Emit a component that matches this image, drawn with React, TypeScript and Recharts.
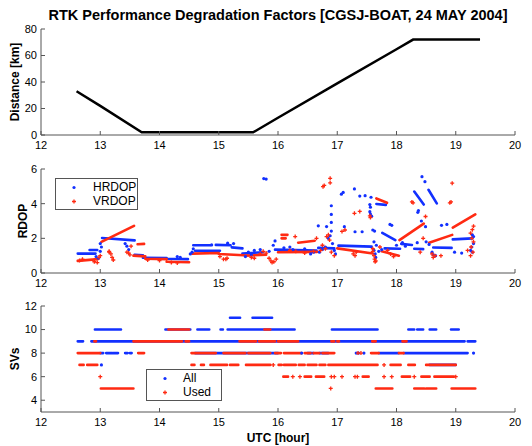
import { ComposedChart, Line, Scatter, XAxis, YAxis } from "recharts";

const FONT = "'Liberation Sans', Arial, sans-serif";
const BLUE = "#1230ff";
const RED = "#ff2a12";
const AXIS = "#555";

const hourTicks = [12, 13, 14, 15, 16, 17, 18, 19, 20];

// baseline length CGSJ -> boat
const distHours = [12.6, 13.0, 13.7, 15.58, 16.0, 17.0, 18.0, 18.28, 19.41];
const distKm = [33, 22, 2, 2, 13, 39, 64.7, 72, 72];

// RDOP: dense stretches [t0, v0, t1, v1], single samples [t, v]
const hrdopRuns: number[][] = [
  [12.62, 1.12, 12.92, 1.12], [12.82, 1.33, 12.95, 1.33], [13.03, 2.02, 13.58, 1.88],
  [13.58, 1.05, 13.72, 1.02], [13.72, 0.88, 14.12, 0.86], [14.12, 0.82, 14.48, 0.8],
  [14.57, 1.6, 14.86, 1.6], [14.6, 1.28, 15.02, 1.28], [14.95, 1.62, 15.2, 1.6],
  [15.22, 1.48, 15.4, 1.42], [15.4, 1.12, 15.75, 1.2], [15.95, 1.35, 16.65, 1.3],
  [16.68, 1.45, 16.95, 1.42], [17.02, 1.58, 17.58, 1.52], [17.66, 3.98, 17.82, 3.93],
  [17.76, 2.32, 17.98, 1.9], [17.8, 1.42, 18.06, 1.4], [18.08, 1.68, 18.26, 1.62],
  [18.3, 4.7, 18.46, 3.95], [18.54, 4.8, 18.68, 4.02], [18.3, 1.4, 18.45, 1.38],
  [18.62, 1.47, 18.93, 1.45], [18.95, 1.94, 19.28, 2.0],
];
const hrdopDots: number[][] = [
  [12.93, 0.95], [13.0, 1.7], [13.02, 1.5], [13.0, 1.25], [12.97, 0.85],
  [13.42, 1.7], [13.45, 1.55], [13.48, 1.35], [14.3, 0.95], [14.35, 0.9],
  [14.52, 1.1], [14.55, 1.2], [14.57, 1.4], [14.88, 1.62], [15.15, 1.72], [15.25, 1.7],
  [15.76, 5.45], [15.8, 5.42], [15.92, 1.6], [15.95, 1.85], [15.6, 1.3], [15.5, 1.2],
  [15.85, 1.25], [15.7, 1.35], [15.55, 1.05], [15.45, 0.95],
  [16.1, 1.45], [16.2, 1.5], [16.25, 1.35], [16.45, 1.4], [16.55, 1.1], [16.6, 1.2],
  [16.68, 2.72], [16.82, 2.68], [16.9, 3.88], [16.9, 3.38], [16.9, 2.92], [16.9, 2.42],
  [16.88, 2.15], [16.85, 2.0], [16.92, 1.7], [16.8, 1.5], [16.75, 1.35], [16.7, 1.2],
  [16.95, 1.3], [16.97, 1.1], [17.07, 4.55], [17.1, 4.65], [17.29, 4.85], [17.38, 4.44],
  [17.47, 4.46], [17.57, 4.37], [17.55, 3.95], [17.56, 3.8], [17.55, 3.54], [17.56, 3.4],
  [17.58, 3.28], [17.12, 2.67], [17.3, 2.38], [17.42, 2.38], [17.6, 2.48], [17.63, 2.42],
  [17.89, 2.8], [17.92, 2.75], [17.62, 1.8], [17.62, 1.3], [17.64, 1.1], [17.65, 0.9],
  [17.66, 1.6], [17.7, 1.25], [17.75, 1.35], [18.0, 1.6], [18.1, 1.75], [18.15, 1.55],
  [18.35, 1.75], [18.37, 3.6], [18.36, 3.5], [18.42, 3.0], [18.49, 2.67], [18.43, 5.56],
  [18.48, 5.27], [18.5, 1.8], [18.55, 1.65], [18.6, 1.2], [18.62, 1.05], [18.66, 1.0],
  [18.76, 2.75], [18.85, 2.8], [18.98, 1.2], [19.1, 1.15], [19.25, 1.3], [19.27, 1.5],
  [19.28, 2.2], [19.3, 1.7], [19.3, 2.1], [19.28, 1.2],
];
const vrdopRuns: number[][] = [
  [12.62, 0.7, 12.96, 0.8], [13.02, 1.8, 13.57, 2.72], [13.56, 1.0, 13.76, 0.96],
  [13.63, 1.66, 13.74, 1.68], [13.76, 0.82, 14.12, 0.8], [14.12, 0.65, 14.5, 0.62],
  [14.55, 1.12, 15.0, 1.15], [15.0, 1.1, 15.42, 1.02], [15.45, 1.0, 15.8, 1.05],
  [16.0, 1.2, 16.66, 1.22], [16.34, 1.75, 16.62, 1.86], [16.06, 2.2, 16.16, 2.2],
  [16.06, 2.0, 16.13, 2.0], [17.0, 1.42, 17.6, 1.12], [17.66, 4.3, 17.84, 4.05],
  [17.75, 1.25, 18.04, 1.0], [18.05, 1.9, 18.46, 2.85], [18.55, 1.75, 18.94, 2.2],
  [18.95, 2.62, 19.33, 3.38],
];
const vrdopDots: number[][] = [
  [12.65, 0.72], [12.7, 0.8], [12.9, 0.65], [12.95, 0.6], [12.98, 0.9], [13.0, 1.0],
  [13.15, 1.2], [13.18, 1.1], [13.2, 0.9], [13.22, 0.75], [13.15, 1.25],
  [13.45, 1.2], [13.48, 1.15], [13.5, 1.05], [13.52, 1.55],
  [13.8, 0.75], [14.0, 0.72], [14.2, 0.6], [14.3, 0.58],
  [15.08, 0.8], [15.12, 0.8], [15.14, 0.85], [15.02, 0.95],
  [15.55, 0.9], [15.6, 0.85], [15.85, 0.85], [15.88, 0.7], [15.9, 0.6], [15.93, 0.65],
  [15.97, 0.8], [15.7, 1.1], [15.75, 1.25], [15.8, 1.15],
  [16.29, 2.1], [16.2, 1.3], [16.3, 1.25], [16.45, 1.15], [16.6, 1.25], [16.65, 2.0],
  [16.76, 4.98], [16.78, 5.05], [16.88, 5.46], [16.88, 5.2], [16.82, 2.1], [16.85, 2.2],
  [16.87, 1.9], [16.75, 1.6], [16.8, 1.4], [16.9, 1.2], [16.95, 1.0], [16.72, 1.3],
  [17.08, 2.4], [17.29, 3.44], [17.38, 3.55], [17.13, 2.48], [17.27, 1.1], [17.3, 1.0],
  [17.32, 1.2], [17.55, 3.3], [17.56, 3.2], [17.6, 1.25], [17.62, 1.0], [17.63, 0.8],
  [17.64, 0.65], [17.65, 0.7], [17.6, 1.4], [17.72, 1.5], [17.85, 1.3], [17.9, 1.1],
  [17.95, 0.95], [18.26, 4.1], [18.28, 4.05], [18.49, 3.26], [18.45, 2.0], [18.4, 1.2],
  [18.6, 1.1], [18.62, 0.9], [18.65, 1.0], [18.9, 4.05], [18.92, 4.1], [18.94, 5.18],
  [18.75, 1.0], [19.2, 1.3], [19.25, 1.0], [19.26, 1.5], [19.27, 2.0], [19.28, 2.5],
  [19.3, 1.8], [19.3, 2.7], [19.25, 2.3], [19.29, 1.2],
];

// satellites: stretches [t0, t1, count], single samples [t, count]
const allRuns: number[][] = [
  [15.19, 15.36, 11], [15.57, 15.9, 11],
  [12.91, 13.35, 10], [14.1, 14.52, 10], [14.64, 14.84, 10], [15.03, 15.07, 10],
  [15.15, 16.28, 10], [16.91, 17.68, 10], [18.2, 18.3, 10], [18.35, 18.45, 10],
  [18.56, 18.67, 10], [18.92, 19.05, 10],
  [12.62, 12.71, 9], [12.85, 19.15, 9], [19.2, 19.33, 9],
  [13.0, 13.05, 8], [13.1, 13.2, 8], [13.22, 13.3, 8], [13.42, 13.46, 8], [13.5, 13.53, 8],
  [14.6, 16.0, 8], [16.5, 16.6, 8], [16.7, 16.85, 8], [17.7, 18.04, 8], [18.12, 19.2, 8],
  [18.56, 19.0, 7],
];
const allDots: number[][] = [
  [13.02, 7], [17.32, 8], [17.36, 8], [19.3, 8], [16.4, 8], [17.45, 8],
];
const usedRuns: number[][] = [
  [14.15, 14.5, 10], [15.77, 15.87, 10],
  [12.9, 12.93, 9], [13.56, 14.25, 9], [14.27, 14.38, 9], [14.44, 14.5, 9],
  [15.35, 15.63, 9], [15.68, 15.95, 9], [16.0, 16.34, 9], [16.9, 16.95, 9],
  [17.0, 17.03, 9], [17.59, 17.65, 9], [18.1, 18.17, 9],
  [12.62, 13.0, 8], [13.64, 13.74, 8], [14.54, 14.95, 8], [15.08, 15.45, 8],
  [15.5, 15.87, 8], [15.95, 16.05, 8], [16.1, 16.4, 8], [16.45, 16.55, 8],
  [16.6, 16.7, 8], [16.75, 16.95, 8], [17.57, 17.7, 8], [18.04, 18.12, 8],
  [12.65, 12.72, 7], [12.78, 12.95, 7], [14.54, 14.59, 7], [14.7, 14.75, 7],
  [14.86, 15.14, 7], [15.19, 15.33, 7], [15.46, 15.87, 7], [16.01, 16.06, 7],
  [16.1, 16.3, 7], [16.35, 16.45, 7], [16.5, 16.65, 7], [16.7, 16.8, 7],
  [16.85, 17.68, 7], [17.9, 18.07, 7], [18.2, 18.31, 7], [18.5, 19.0, 7],
  [16.09, 16.17, 6], [16.45, 16.56, 6], [16.64, 16.78, 6], [17.43, 17.53, 6],
  [18.09, 18.23, 6], [18.42, 18.56, 6], [18.64, 18.97, 6],
  [13.01, 13.56, 5], [17.65, 17.93, 5], [18.3, 18.47, 5], [18.5, 18.67, 5],
  [18.93, 19.33, 5],
];
const usedDots: number[][] = [
  [13.0, 6], [16.25, 6], [16.37, 6], [16.9, 6], [16.95, 6], [17.08, 6], [17.3, 6],
  [17.34, 6], [17.79, 6], [17.92, 6], [18.3, 6], [17.79, 7], [15.92, 7], [16.89, 5],
  [17.35, 8], [17.4, 8], [19.0, 6],
];

const pointRuns = (runs: number[][]) =>
  runs.flatMap(([t0, v0, t1, v1]) => [
    { t: t0, v: v0 },
    { t: t1, v: v1 },
    { t: t1, v: null },
  ]);
const levelRuns = (runs: number[][]) =>
  runs.flatMap(([t0, t1, n]) => [
    { t: t0, v: n },
    { t: t1, v: n },
    { t: t1, v: null },
  ]);
const points = (rows: number[][]) => rows.map(([t, v]) => ({ t, v }));

const BlueDot = (p: any) => <circle cx={p.cx} cy={p.cy} r={1.6} fill={BLUE} />;
const RedPlus = (p: any) => (
  <path
    d={`M${p.cx - 2},${p.cy}h4M${p.cx},${p.cy - 2}v4`}
    stroke={RED}
    strokeWidth={1.3}
  />
);

const tickFont = { fontSize: 11, fill: "#000", fontFamily: FONT };

const yTitle = (text: string, x: number) => (props: any) => {
  const vb = props.viewBox;
  const cy = vb.y + vb.height / 2;
  return (
    <text
      x={x}
      y={cy}
      transform={`rotate(-90 ${x} ${cy})`}
      textAnchor="middle"
      dominantBaseline="central"
      style={{ fontSize: 12, fontWeight: "bold", fontFamily: FONT, fill: "#000" }}
    >
      {text}
    </text>
  );
};

function frame(
  yDomain: [number, number],
  yTicks: number[],
  xHeight: number,
  yLabel: string,
  yLabelX: number,
  xLabel?: string
) {
  return [
    <XAxis
      key="xb"
      type="number"
      dataKey="t"
      domain={[12, 20]}
      ticks={hourTicks}
      interval={0}
      allowDataOverflow
      height={xHeight}
      stroke={AXIS}
      tick={tickFont}
      tickSize={-4}
      tickMargin={10}
      label={
        xLabel
          ? {
              value: xLabel,
              position: "insideBottom",
              offset: 4,
              style: { fontSize: 12, fontWeight: "bold", fontFamily: FONT, fill: "#000" },
            }
          : undefined
      }
    />,
    <XAxis
      key="xt"
      xAxisId="top"
      orientation="top"
      type="number"
      domain={[12, 20]}
      ticks={hourTicks}
      interval={0}
      height={0}
      stroke={AXIS}
      tick={false}
      tickSize={-4}
    />,
    <YAxis
      key="yl"
      type="number"
      dataKey="v"
      domain={yDomain}
      ticks={yTicks}
      interval={0}
      allowDataOverflow
      width={41}
      stroke={AXIS}
      tick={tickFont}
      tickSize={-4}
      tickMargin={8}
      label={{ content: yTitle(yLabel, yLabelX) }}
    />,
    <YAxis
      key="yr"
      yAxisId="right"
      orientation="right"
      type="number"
      domain={yDomain}
      ticks={yTicks}
      interval={0}
      width={0}
      stroke={AXIS}
      tick={false}
      tickSize={-4}
    />,
  ];
}

const legendBox = (left: number, top: number, w: number): React.CSSProperties => ({
  position: "absolute",
  left,
  top,
  width: w,
  height: 32,
  border: "1px solid #555",
  background: "#fff",
  fontFamily: FONT,
  fontSize: 12,
  boxSizing: "border-box",
});

function LegendRow({ kind, text, top, textLeft }: any) {
  return (
    <div style={{ position: "absolute", left: 0, top, height: 15, width: "100%" }}>
      <svg width={30} height={15} style={{ position: "absolute", left: 10, top: 0 }}>
        {kind === "blue" ? BlueDot({ cx: 8, cy: 7.5 }) : RedPlus({ cx: 8, cy: 7.5 })}
      </svg>
      <span style={{ position: "absolute", left: textLeft, top: 0, lineHeight: "15px" }}>
        {text}
      </span>
    </div>
  );
}

export default function App() {
  return (
    <div
      style={{
        position: "absolute",
        left: 0,
        top: 0,
        width: 532,
        height: 446,
        background: "#fff",
        overflow: "hidden",
        fontFamily: FONT,
      }}
    >
      <div
        style={{
          position: "absolute",
          left: 41,
          width: 474,
          top: 6,
          textAlign: "center",
          fontSize: 14.5,
          fontWeight: "bold",
          lineHeight: "18px",
        }}
      >
        RTK Performance Degradation Factors [CGSJ-BOAT, 24 MAY 2004]
      </div>

      <div style={{ position: "absolute", left: 0, top: 0 }}>
        <ComposedChart width={532} height={152} margin={{ top: 29, right: 17, bottom: 0, left: 0 }}>
          {frame([0, 80], [0, 20, 40, 60, 80], 17, "Distance [km]", 15)}
          <Line
            data={distHours.map((t, i) => ({ t, v: distKm[i] }))}
            dataKey="v"
            stroke="#000"
            strokeWidth={2.5}
            dot={false}
            activeDot={false}
            isAnimationActive={false}
          />
        </ComposedChart>
      </div>

      <div style={{ position: "absolute", left: 0, top: 150 }}>
        <ComposedChart width={532} height={140} margin={{ top: 19, right: 17, bottom: 0, left: 0 }}>
          {frame([0, 6], [0, 2, 4, 6], 17, "RDOP", 23)}
          <Line data={pointRuns(hrdopRuns)} dataKey="v" stroke={BLUE} strokeWidth={2.6}
            strokeLinecap="round" dot={false} activeDot={false} isAnimationActive={false} />
          <Scatter data={points(hrdopDots)} dataKey="v" shape={BlueDot} isAnimationActive={false} />
          <Line data={pointRuns(vrdopRuns)} dataKey="v" stroke={RED} strokeWidth={2.6}
            strokeLinecap="round" dot={false} activeDot={false} isAnimationActive={false} />
          <Scatter data={points(vrdopDots)} dataKey="v" shape={RedPlus} isAnimationActive={false} />
        </ComposedChart>
        <div style={legendBox(55, 28, 83)}>
          <LegendRow kind="blue" text="HRDOP" top={1} textLeft={37} />
          <LegendRow kind="red" text="VRDOP" top={15} textLeft={37} />
        </div>
      </div>

      <div style={{ position: "absolute", left: 0, top: 288 }}>
        <ComposedChart width={532} height={158} margin={{ top: 18, right: 17, bottom: 0, left: 0 }}>
          {frame([3, 12], [4, 6, 8, 10, 12], 34, "SVs", 15, "UTC [hour]")}
          <Line data={levelRuns(allRuns)} dataKey="v" stroke={BLUE} strokeWidth={2.6}
            strokeLinecap="round" dot={false} activeDot={false} isAnimationActive={false} />
          <Scatter data={points(allDots)} dataKey="v" shape={BlueDot} isAnimationActive={false} />
          <Line data={levelRuns(usedRuns)} dataKey="v" stroke={RED} strokeWidth={2.6}
            strokeLinecap="round" dot={false} activeDot={false} isAnimationActive={false} />
          <Scatter data={points(usedDots)} dataKey="v" shape={RedPlus} isAnimationActive={false} />
        </ComposedChart>
        <div style={legendBox(146, 81, 76)}>
          <LegendRow kind="blue" text="All" top={1} textLeft={36} />
          <LegendRow kind="red" text="Used" top={15} textLeft={36} />
        </div>
      </div>
    </div>
  );
}
